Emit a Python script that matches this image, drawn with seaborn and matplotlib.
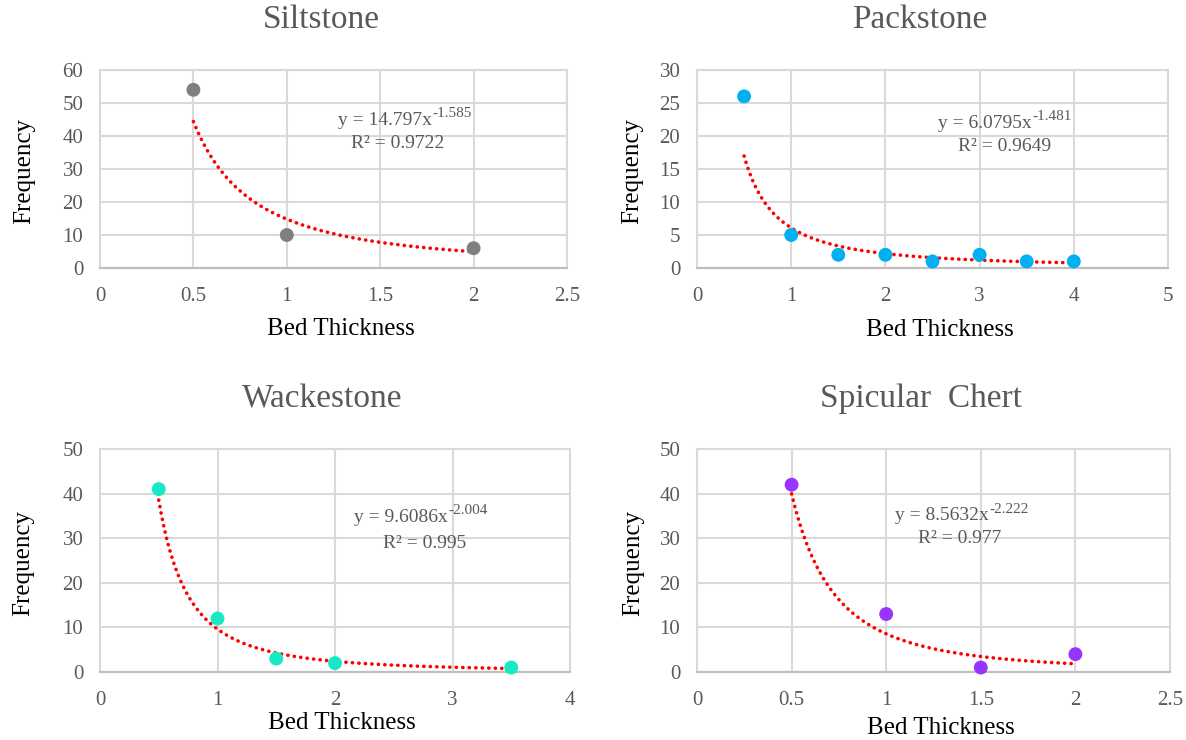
import numpy as np
import pandas as pd
import matplotlib
matplotlib.use("Agg")
import matplotlib.pyplot as plt
import seaborn as sns

# ---- data ----
titles = ["Siltstone", "Packstone", "Wackestone", "Spicular  Chert"]
silt_x = [0.5, 1, 2]
silt_y = [54, 10, 6]
pack_x = [0.5, 1, 1.5, 2, 2.5, 3, 3.5, 4]
pack_y = [26, 5, 2, 2, 1, 2, 1, 1]
wack_x = [0.5, 1, 1.5, 2, 3.5]
wack_y = [41, 12, 3, 2, 1]
spic_x = [0.5, 1, 1.5, 2]
spic_y = [42, 13, 1, 4]
eq_main = ["y = 14.797x", "y = 6.0795x", "y = 9.6086x", "y = 8.5632x"]
eq_exp = ["-1.585", "-1.481", "-2.004", "-2.222"]
r2_labels = ["R² = 0.9722", "R² = 0.9649", "R² = 0.995", "R² = 0.977"]
colors = ["#7f7f7f", "#00b0f0", "#16eac4", "#9933ff"]
xmax = [2.5, 5, 4, 2.5]
xstep = [0.5, 1, 1, 0.5]
ymax = [60, 30, 50, 50]
ystep = [10, 5, 10, 10]

sns.set_theme(style="whitegrid")
plt.rcParams['font.family'] = ['Liberation Serif', 'DejaVu Serif']

W, H = 1186, 740
fig = plt.figure(figsize=(W / 100, H / 100), dpi=100)
fig.patch.set_facecolor("white")

# axes pixel boxes: left, right, top, bottom
boxes = [(100, 567, 70, 268), (697, 1168, 70, 268),
         (100, 570, 449, 672), (697, 1170, 449, 672)]
# (main eq right edge x, y), (R2 center x, y) in axes fraction
eq_pos = [((0.711, 0.747), (0.638, 0.631)),
          ((0.711, 0.732), (0.652, 0.616)),
          ((0.740, 0.695), (0.691, 0.578)),
          ((0.617, 0.700), (0.556, 0.597))]
ylab_x = [-0.139, -0.114, -0.140, -0.112]
xlab_y = [-0.25, -0.26, -0.18, -0.20]

datasets = [(silt_x, silt_y), (pack_x, pack_y), (wack_x, wack_y), (spic_x, spic_y)]
gray = "#595959"

for i, ((xs, ys), (l, r, t, b)) in enumerate(zip(datasets, boxes)):
    ax = fig.add_axes([l / W, 1 - b / H, (r - l) / W, (b - t) / H])
    ax.set_facecolor("white")
    df = pd.DataFrame({"x": xs, "y": ys})
    # power trendline fitted on log-log
    slope, intercept = np.polyfit(np.log(df.x), np.log(df.y), 1)
    xf = np.linspace(min(xs), max(xs), 300)
    fit = pd.DataFrame({"x": xf, "y": np.exp(intercept) * xf ** slope})
    sns.lineplot(data=fit, x="x", y="y", ax=ax, color="#ff0000",
                 linewidth=2.6, linestyle=(0, (0.05, 1.75)), zorder=3)
    ax.lines[-1].set_dash_capstyle("round")
    sns.scatterplot(data=df, x="x", y="y", ax=ax, color=colors[i], s=100,
                    edgecolor="none", zorder=4, clip_on=False)
    ax.set_xlim(0, xmax[i])
    ax.set_ylim(0, ymax[i])
    xt = np.arange(0, xmax[i] + 1e-9, xstep[i])
    yt = np.arange(0, ymax[i] + 1e-9, ystep[i])
    ax.set_xticks(xt)
    ax.set_yticks(yt)
    ax.set_xticklabels([f"{v:g}" for v in xt])
    ax.set_yticklabels([f"{v:g}" for v in yt])
    ax.tick_params(axis="both", length=0, labelsize=15, labelcolor=gray)
    ax.tick_params(axis="x", pad=14)
    ax.tick_params(axis="y", pad=12)
    ax.grid(True, color="#d9d9d9", linewidth=1.5)
    for s in ["left", "right", "top"]:
        ax.spines[s].set_color("#d9d9d9")
        ax.spines[s].set_linewidth(1.5)
    ax.spines["bottom"].set_color("#bfbfbf")
    ax.spines["bottom"].set_linewidth(1.6)
    ax.set_xlabel("Bed Thickness", fontsize=18, color="#000000")
    ax.set_ylabel("Frequency", fontsize=18, color="#000000")
    ax.xaxis.set_label_coords(0.515, xlab_y[i])
    ax.yaxis.set_label_coords(ylab_x[i], 0.49)
    ax.set_title(titles[i], fontsize=24, color=gray, pad=30, x=0.473)
    (p1, p2) = eq_pos[i]
    t1 = ax.text(p1[0], p1[1], eq_main[i], transform=ax.transAxes, ha="right",
                 va="center", fontsize=14, color=gray, zorder=5)
    ax.annotate(eq_exp[i], xy=(1.0, 1.0), xycoords=t1, xytext=(0.5, 3),
                textcoords="offset points", ha="left", va="top",
                fontsize=11, color=gray, zorder=5)
    ax.text(p2[0], p2[1], r2_labels[i], transform=ax.transAxes, ha="center",
            va="center", fontsize=14, color=gray, zorder=5)

fig.savefig("out.png", dpi=100, facecolor="white")
